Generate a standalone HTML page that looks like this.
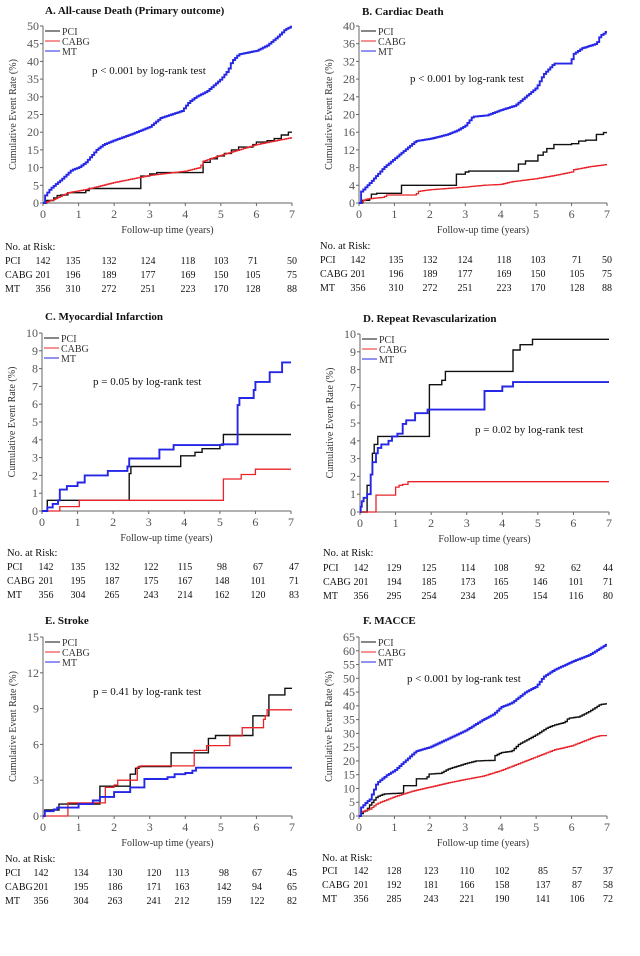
<!DOCTYPE html>
<html><head><meta charset="utf-8"><style>
html,body{margin:0;padding:0;background:#fff;width:640px;height:956px;overflow:hidden}
svg{display:block}
text{font-family:"Liberation Serif",serif}
</style></head><body>
<svg id="s" width="640" height="956" xmlns="http://www.w3.org/2000/svg"></svg>
<script>
const NS="http://www.w3.org/2000/svg";const S=document.getElementById('s');
function el(t,a,txt){const e=document.createElementNS(NS,t);for(const k in a)e.setAttribute(k,a[k]);if(txt!==undefined)e.textContent=txt;S.appendChild(e);return e;}
function steps(pts){let d=[[0,0]];let y=0;for(const [x,v] of pts){d.push([x,y]);d.push([x,v]);y=v;}d.push([7,y]);return d;}
function interp(an){let d=[[0,0]];let y=0;const st=0.06;for(let t=st;t<=7.0001;t+=st){let v=an[an.length-1][1];for(let i=1;i<an.length;i++){if(t<=an[i][0]){const a=an[i-1],b=an[i];v=b[0]==a[0]?b[1]:a[1]+(b[1]-a[1])*(t-a[0])/(b[0]-a[0]);break;}}d.push([t,y]);d.push([t,v]);y=v;}d.push([7,y]);return d;}
const COL={PCI:"#111",CABG:"#e8242a",MT:"#2626e6"};const W={PCI:1.4,CABG:1.3,MT:1.9};
function panel(p){
 const {x0,x7,y0,yt,ymax,ystep,title,tx,ty,pv,px,py,risk,rx,ry,lx,cols}=p;
 const sx=v=>x0+(x7-x0)*v/7, sy=v=>y0-(y0-yt)*v/ymax;
 el('text',{x:tx,y:ty,'font-size':11,'font-weight':'bold',fill:'#111'},title);
 el('line',{x1:x0,y1:y0,x2:x7,y2:y0,stroke:'#666','stroke-width':1});
 el('line',{x1:x0,y1:y0,x2:x0,y2:yt,stroke:'#666','stroke-width':1});
 for(let i=0;i<=7;i++){el('line',{x1:sx(i),y1:y0,x2:sx(i),y2:y0+3,stroke:'#666'});el('text',{x:sx(i),y:y0+15,'font-size':12,'text-anchor':'middle',fill:'#555'},i);}
 for(let v=0;v<=ymax;v+=ystep){el('line',{x1:x0,y1:sy(v),x2:x0-3,y2:sy(v),stroke:'#666'});el('text',{x:x0-4,y:sy(v)+4,'font-size':12,'text-anchor':'end',fill:'#555'},v);}
 el('text',{x:(x0+x7)/2,y:y0+30,'font-size':10,'text-anchor':'middle',fill:'#333'},'Follow-up time (years)');
 const cx=x0-27,cy=(y0+yt)/2;el('text',{x:cx,y:cy,'font-size':10,'text-anchor':'middle',fill:'#333',transform:`rotate(-90 ${cx} ${cy})`},'Cumulative Event Rate (%)');
 ['PCI','CABG','MT'].forEach((k,i)=>{const d=p.data[k];const path=d.map((q,j)=>(j?'L':'M')+sx(q[0]).toFixed(1)+','+sy(Math.min(q[1],ymax)).toFixed(1)).join('');el('path',{d:path,fill:'none',stroke:COL[k],'stroke-width':W[k]});});
 ['PCI','CABG','MT'].forEach((k,i)=>{const ly=yt+5+i*10;el('line',{x1:x0+2,y1:ly,x2:x0+17,y2:ly,stroke:COL[k],'stroke-width':1});el('text',{x:x0+19,y:ly+4,'font-size':10,fill:'#333'},k);});
 el('text',{x:px,y:py,'font-size':11,fill:'#111'},pv);
 el('text',{x:lx,y:ry[0],'font-size':10.5,fill:'#111'},'No. at Risk:');
 ['PCI','CABG','MT'].forEach((k,i)=>{const y=ry[i+1];el('text',{x:lx,y:y,'font-size':10,fill:'#111'},k);risk[i].forEach((n,j)=>el('text',{x:cols[j]+(j==0?1:0),y:y,'font-size':10,'text-anchor':'middle',fill:'#111'},n));});
}
// A
panel({x0:43,x7:292,y0:203,yt:26,ymax:50,ystep:5,title:'A. All-cause Death (Primary outcome)',tx:45,ty:14,pv:'p < 0.001 by log-rank test',px:92,py:74,lx:5,ry:[250,264,278,292],cols:[42,73,109,148,188,221,253,292],
 risk:[[142,135,132,124,118,103,71,50],[201,196,189,177,169,150,105,75],[356,310,272,251,223,170,128,88]],
 data:{PCI:steps([[0.1,0.7],[0.3,1.4],[0.4,2.1],[0.5,2.3],[0.7,2.9],[1.2,3.5],[1.3,4.1],[2.75,7.6],[3.0,8.2],[3.2,8.6],[4.5,11.5],[4.7,12.5],[4.9,13.3],[5.1,14],[5.3,15],[5.5,15.8],[5.9,16.5],[6.0,17.2],[6.3,17.6],[6.5,18.2],[6.7,19.2],[6.9,20]]),
 CABG:interp([[0,0],[0.3,1],[0.7,2.9],[1.2,3.8],[2,5.8],[3,7.8],[4,9],[4.4,10],[4.5,11.8],[5,13.5],[5.5,15],[6,16.5],[6.5,17.5],[7,18.5]]),
 MT:interp([[0,0],[0.05,2],[0.2,4],[0.5,6.5],[0.8,9.3],[1,10],[1.2,11.5],[1.5,15],[1.7,16.5],[2,17.7],[2.5,19.5],[3,21.5],[3.3,24],[3.6,25],[3.9,26],[4.1,28.5],[4.3,30],[4.6,31.5],[5,35],[5.2,37.5],[5.3,40],[5.5,42],[6,43],[6.3,44.5],[6.6,47],[6.8,49],[7,50]])}});
// B
panel({x0:359,x7:607,y0:203,yt:26,ymax:40,ystep:4,title:'B.  Cardiac Death',tx:362,ty:15,pv:'p < 0.001 by log-rank test',px:410,py:82,lx:320,ry:[249,263,277,291],cols:[357,396,430,465,504,538,577,607],
 risk:[[142,135,132,124,118,103,71,50],[201,196,189,177,169,150,105,75],[356,310,272,251,223,170,128,88]],
 data:{PCI:steps([[0.1,0.6],[0.3,1],[0.35,2],[0.5,2.2],[1.2,4],[2.75,6.5],[3,7],[3.1,7.2],[4.5,8.8],[4.7,9.5],[5.05,10.8],[5.2,11.5],[5.3,12.3],[5.5,13.2],[6,13.4],[6.2,14],[6.4,14.2],[6.7,15.5],[6.9,15.9]]),
 CABG:interp([[0,0],[0.2,0.9],[0.7,1.3],[0.75,1.8],[1.6,1.8],[1.65,2.6],[2,3],[3,3.6],[3.5,4],[4,4.2],[4.3,4.8],[5,5.5],[5.5,6.2],[6,7],[6.05,7.5],[6.5,8.2],[7,8.7]]),
 MT:interp([[0,0],[0.05,2.5],[0.3,4.5],[0.7,8],[1,10],[1.3,12],[1.6,14],[2,14.5],[2.5,15.5],[2.8,16.5],[3,17.5],[3.2,19.5],[3.6,19.8],[4,21],[4.4,22],[4.7,24],[5,26],[5.2,29],[5.5,31.5],[5.98,31.5],[6.02,33.5],[6.3,35],[6.5,35.5],[6.7,36],[6.8,37.8],[6.95,38.5],[7,39.3]])}});
// C
panel({x0:42,x7:291,y0:511,yt:333,ymax:10,ystep:1,title:'C. Myocardial Infarction',tx:45,ty:320,pv:'p = 0.05 by log-rank test',px:93,py:385,lx:7,ry:[556,570,584,598],cols:[45,78,112,151,185,222,258,294],
 risk:[[142,135,132,122,115,98,67,47],[201,195,187,175,167,148,101,71],[356,304,265,243,214,162,120,83]],
 data:{PCI:steps([[0.15,0.6],[2.45,2.1],[2.5,2.5],[3.9,3.1],[4.3,3.3],[4.5,3.5],[5,3.7],[5.1,4.3]]),
 CABG:steps([[0.5,0.25],[1.05,0.6],[5.1,1.8],[5.6,2.05],[6,2.35]]),
 MT:steps([[0.15,0.2],[0.3,0.4],[0.45,0.6],[0.5,1.2],[0.7,1.4],[1,1.6],[1.2,2.0],[1.85,2.25],[2.4,2.5],[2.45,2.95],[3.3,3.45],[3.7,3.7],[5.05,3.75],[5.5,5.95],[5.55,6.35],[5.95,6.8],[6,7.25],[6.4,7.8],[6.75,8.35]])}});
// D
panel({x0:360,x7:609,y0:512,yt:334,ymax:10,ystep:1,title:'D. Repeat Revascularization',tx:363,ty:322,pv:'p = 0.02 by log-rank test',px:475,py:433,lx:323,ry:[556,571,585,599],cols:[360,394,429,468,501,540,576,608],
 risk:[[142,129,125,114,108,92,62,44],[201,194,185,173,165,146,101,71],[356,295,254,234,205,154,116,80]],
 data:{PCI:steps([[0.2,1.5],[0.3,2.1],[0.35,3.3],[0.4,3.8],[0.5,4.25],[1.95,7.15],[2.3,7.4],[2.4,7.9],[4.3,9.1],[4.5,9.4],[4.85,9.7]]),
 CABG:steps([[0.45,0.95],[1,1.4],[1.1,1.5],[1.2,1.55],[1.35,1.7]]),
 MT:steps([[0.02,0.3],[0.05,0.6],[0.1,0.8],[0.2,1.0],[0.3,2.1],[0.35,2.8],[0.45,3.3],[0.5,3.6],[0.6,3.8],[0.8,4.0],[0.9,4.25],[1.05,4.4],[1.2,4.95],[1.3,5.15],[1.55,5.55],[1.9,5.75],[3.5,6.8],[4,7.05],[4.3,7.3]])}});
// E
panel({x0:43,x7:292,y0:816,yt:637,ymax:15,ystep:3,title:'E. Stroke',tx:45,ty:624,pv:'p = 0.41 by log-rank test',px:93,py:695,lx:5,ry:[862,876,890,904],cols:[40,81,115,154,182,224,257,292],
 risk:[[142,134,130,120,113,98,67,45],[201,195,186,171,163,142,94,65],[356,304,263,241,212,159,122,82]],
 data:{PCI:steps([[0.05,0.5],[0.45,1.0],[1.6,2.5],[2.45,3.5],[2.6,4.0],[2.7,4.15],[3.6,5.3],[4.65,6.5],[4.85,6.75],[5.9,8.4],[6.35,10.15],[6.8,10.7]]),
 CABG:steps([[0.7,1.1],[1.75,2.4],[2,2.6],[2.1,3.0],[2.65,4.1],[2.75,4.2],[4.25,5.5],[4.6,5.9],[5.25,6.7],[5.6,7.4],[6.2,8.1],[6.25,8.4],[6.3,8.9]]),
 MT:steps([[0.05,0.4],[0.3,0.55],[0.4,0.7],[1,1.0],[1.4,1.3],[1.6,1.6],[2,2.0],[2.45,2.4],[2.85,3.1],[3.5,3.25],[3.7,3.5],[4,3.6],[4.2,3.8],[4.3,4.05]])}});
// F
panel({x0:359,x7:607,y0:816,yt:637,ymax:65,ystep:5,title:'F. MACCE',tx:363,ty:624,pv:'p < 0.001 by log-rank test',px:407,py:682,lx:322,ry:[861,874,888,902],cols:[360,394,431,467,502,543,577,608],
 risk:[[142,128,123,110,102,85,57,37],[201,192,181,166,158,137,87,58],[356,285,243,221,190,141,106,72]],
 data:{PCI:interp([[0,0],[0.1,1.5],[0.2,2],[0.3,4],[0.5,7],[0.7,8],[1.2,8.3],[1.25,11],[1.58,11],[1.62,13.5],[1.9,13.5],[1.95,15.2],[2.3,15.5],[2.5,17],[3,19],[3.3,20],[3.78,20.2],[3.82,21.8],[4,23],[4.3,23.5],[4.5,26],[5,29.5],[5.3,32],[5.5,33],[5.8,34],[5.9,35.5],[6.2,36],[6.5,38],[6.8,40.5],[7,40.8]]),
 CABG:interp([[0,0],[0.05,1.5],[0.3,2.5],[0.5,4.5],[0.8,6],[1,7],[1.5,9],[2,10.5],[2.5,12],[3,13.3],[3.5,14.5],[4,16.5],[4.5,19],[5,21.5],[5.5,24],[6,25.5],[6.3,27],[6.6,28.5],[6.8,29.2],[7,29.2]]),
 MT:interp([[0,0],[0.05,3],[0.2,5],[0.3,6],[0.4,9],[0.5,12],[0.8,15],[1,16.5],[1.3,20],[1.6,23.5],[2,25],[2.5,28],[3,31],[3.5,35],[3.8,37],[4,39.5],[4.3,41],[4.7,45],[5,47],[5.2,50.5],[5.5,53],[6,56],[6.5,58.5],[7,62.5]])}});
</script>
</body></html>
